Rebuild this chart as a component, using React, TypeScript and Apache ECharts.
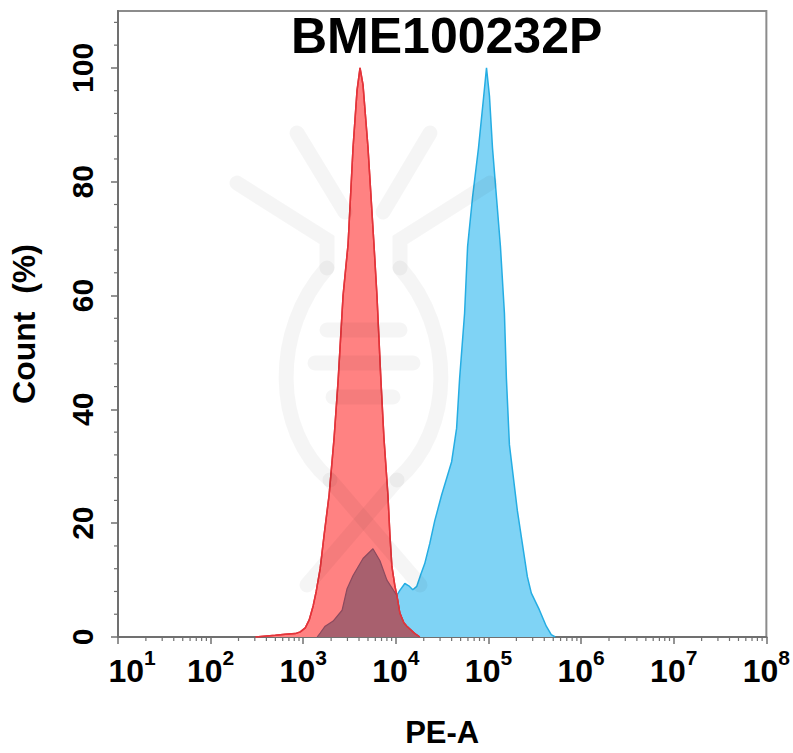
import React, { useEffect, useRef } from "react";
import * as echarts from "echarts";

const FONT = '"Liberation Sans", Arial, Helvetica, sans-serif';

// PE-A values (x) and Count % (y)
const redX = [305, 500, 641, 820, 929, 1051, 1160, 1281, 1380, 1523, 1682, 1904, 2154, 2379, 2692, 3047, 3449, 3808, 4102, 4419, 5000, 5798, 6247, 6899, 7431, 8204, 8620, 9058, 9754, 10250, 11040, 12190, 13130, 16010, 18120];
const redY = [0, 0.3, 0.5, 0.6, 0.9, 1.6, 3, 5.5, 8, 12, 18, 25, 35, 45, 60, 69, 86, 96, 100, 97, 86, 69, 60, 45, 35, 25, 18, 12.4, 9, 7.3, 4.2, 2.5, 1.9, 0.6, 0];

const blueX = [1414, 1523, 1724, 2102, 2627, 2973, 3449, 4419, 5656, 6730, 8003, 10250, 11040, 12500, 13800, 15230, 16820, 18570, 20500, 23210, 26270, 31240, 40010, 45280, 48770, 55200, 59470, 67300, 78070, 88370, 95170, 102500, 110400, 121900, 134600, 148600, 156100, 168200, 205000, 232100, 262700, 290000, 353500, 420500, 475800, 525200];
const blueY = [0, 0.7, 1.9, 2.8, 4.7, 8.5, 10.8, 13.8, 15.5, 13.4, 10, 7.3, 8.2, 9.4, 9.0, 8.3, 8.9, 11, 12.9, 16.4, 20.4, 25, 30.8, 36.7, 45.4, 56.9, 68.6, 77.3, 86, 94.7, 100, 95, 86, 77.3, 68.6, 56.9, 45.4, 33.8, 22.2, 16.4, 10.6, 7.7, 4.8, 1.9, 0.4, 0];

// region where both histograms overlap
const overlapX = [1414, 1523, 1724, 2102, 2627, 2973, 3449, 4419, 5656, 6730, 8003, 10250, 11040, 12190, 13130, 16010, 18120];
const overlapY = [0, 0.7, 1.9, 2.8, 4.7, 8.5, 10.8, 13.8, 15.5, 13.4, 10, 7.3, 4.2, 2.5, 1.9, 0.6, 0];

const decades = [1, 2, 3, 4, 5, 6, 7];
const minorMultipliers = [2, 3, 4, 5, 6, 7, 8, 9];
const yMinorTicks = [4, 8, 12, 16, 24, 28, 32, 36, 44, 48, 52, 56, 64, 68, 72, 76, 84, 88, 92, 96, 104, 108];

const X_MIN = 10;
const X_MAX = 1e8;
const Y_MAX = 110;

const zip = (xs: number[], ys: number[]) => xs.map((x, i) => [x, ys[i]]);

const xMinorData: number[][] = [];
decades.forEach((d) => minorMultipliers.forEach((m) => xMinorData.push([m * Math.pow(10, d), 0])));
const yMinorData = yMinorTicks.map((v) => [X_MIN, v]);

const AXIS_COLOR = "#707070";
const WM = "rgba(0,0,0,0.038)";

export default function App() {
  const ref = useRef<HTMLDivElement>(null);
  useEffect(() => {
    document.body.style.margin = "0";
    const chart = echarts.init(ref.current!, null, { renderer: "svg" });
    const wmStyle = { stroke: WM, lineWidth: 15, lineCap: "round", fill: null };
    chart.setOption({
      animation: false,
      backgroundColor: "#fff",
      title: {
        text: "BME100232P",
        left: 291,
        top: 11,
        padding: 0,
        textStyle: { fontSize: 50, fontWeight: "bold", fontFamily: FONT, color: "#000" },
      },
      grid: {
        left: 117,
        right: 25,
        top: 11,
        bottom: 109,
        show: true,
        borderColor: "#8c8c8c",
        borderWidth: 2,
      },
      xAxis: {
        type: "log",
        logBase: 10,
        min: X_MIN,
        max: X_MAX,
        splitNumber: 7,
        name: "PE-A",
        nameLocation: "middle",
        nameGap: 80,
        nameTextStyle: { fontSize: 31, fontWeight: "bold", fontFamily: FONT, color: "#000" },
        axisLine: { show: true, lineStyle: { color: AXIS_COLOR, width: 2 } },
        axisTick: { show: true, length: 7, lineStyle: { color: AXIS_COLOR, width: 1.5 } },
        splitLine: { show: false },
        axisLabel: {
          margin: 10,
          formatter: (v: number, idx: number) => {
            const n = Math.round(Math.log10(v));
            return idx === 0 ? `{b0|10}{s|${n}}` : `{b|10}{s|${n}}`;
          },
          rich: {
            b: { fontSize: 32, fontWeight: "bold", fontFamily: FONT, color: "#000", lineHeight: 48 },
            b0: { fontSize: 32, fontWeight: "bold", fontFamily: FONT, color: "#000", lineHeight: 48, padding: [0, 0, 0, 28] },
            s: { fontSize: 21, fontWeight: "bold", fontFamily: FONT, color: "#000", lineHeight: 20, verticalAlign: "top" },
          },
        },
      },
      yAxis: {
        type: "value",
        min: 0,
        max: Y_MAX,
        interval: 20,
        name: "Count  (%)",
        nameLocation: "middle",
        nameRotate: 90,
        nameGap: 78,
        nameTextStyle: { fontSize: 32, fontWeight: "bold", fontFamily: FONT, color: "#000" },
        axisLine: { show: true, lineStyle: { color: AXIS_COLOR, width: 2 } },
        axisTick: { show: true, length: 7, lineStyle: { color: AXIS_COLOR, width: 1.5 } },
        splitLine: { show: false },
        axisLabel: {
          rotate: 90,
          margin: 21,
          showMaxLabel: false,
          fontSize: 30,
          fontWeight: "bold",
          fontFamily: FONT,
          color: "#000",
          formatter: (v: number) => (v > 100 ? "" : String(v)),
        },
      },
      graphic: [
        { type: "polyline", z: 100, silent: true, shape: { points: [[297, 133], [345, 212]] }, style: wmStyle },
        { type: "polyline", z: 100, silent: true, shape: { points: [[430, 133], [383, 212]] }, style: wmStyle },
        { type: "polyline", z: 100, silent: true, shape: { points: [[237, 183], [327, 240], [327, 268]] }, style: wmStyle },
        { type: "polyline", z: 100, silent: true, shape: { points: [[490, 183], [400, 240], [400, 268]] }, style: wmStyle },
        { type: "bezierCurve", z: 100, silent: true, shape: { x1: 327, y1: 268, cpx1: 272, cpy1: 330, cpx2: 272, cpy2: 430, x2: 330, y2: 480 }, style: wmStyle },
        { type: "bezierCurve", z: 100, silent: true, shape: { x1: 400, y1: 268, cpx1: 455, cpy1: 330, cpx2: 455, cpy2: 430, x2: 397, y2: 480 }, style: wmStyle },
        { type: "polyline", z: 100, silent: true, shape: { points: [[330, 480], [420, 585]] }, style: wmStyle },
        { type: "polyline", z: 100, silent: true, shape: { points: [[397, 480], [307, 585]] }, style: wmStyle },
        { type: "polyline", z: 100, silent: true, shape: { points: [[327, 330], [400, 330]] }, style: wmStyle },
        { type: "polyline", z: 100, silent: true, shape: { points: [[315, 363], [413, 363]] }, style: wmStyle },
        { type: "polyline", z: 100, silent: true, shape: { points: [[333, 397], [393, 397]] }, style: wmStyle },
      ],
      series: [
        {
          name: "sample",
          type: "line",
          data: zip(blueX, blueY),
          symbol: "none",
          z: 2,
          lineStyle: { color: "#25ade3", width: 1.5 },
          areaStyle: { color: "#7fd3f5", opacity: 1 },
        },
        {
          name: "control",
          type: "line",
          data: zip(redX, redY),
          symbol: "none",
          z: 3,
          lineStyle: { color: "#e3343a", width: 1.5 },
          areaStyle: { color: "#ff8282", opacity: 1 },
        },
        {
          name: "overlap",
          type: "line",
          data: zip(overlapX, overlapY),
          symbol: "none",
          z: 4,
          lineStyle: { color: "#8c4a5e", width: 1.2 },
          areaStyle: { color: "#a8606e", opacity: 1 },
        },
        {
          name: "control-edge",
          type: "line",
          data: zip(redX, redY),
          symbol: "none",
          z: 5,
          lineStyle: { color: "#e3343a", width: 1.5 },
        },
        {
          name: "xMinor",
          type: "custom",
          silent: true,
          z: 6,
          data: xMinorData,
          encode: { x: 0, y: 1 },
          renderItem: (params: any, api: any) => {
            const p = api.coord([api.value(0), 0]);
            return {
              type: "line",
              shape: { x1: p[0], y1: p[1], x2: p[0], y2: p[1] + 4 },
              style: { stroke: AXIS_COLOR, lineWidth: 1.2 },
            };
          },
        },
        {
          name: "yMinor",
          type: "custom",
          silent: true,
          z: 6,
          data: yMinorData,
          encode: { x: 0, y: 1 },
          renderItem: (params: any, api: any) => {
            const p = api.coord([api.value(0), api.value(1)]);
            return {
              type: "line",
              shape: { x1: p[0], y1: p[1], x2: p[0] - 4, y2: p[1] },
              style: { stroke: AXIS_COLOR, lineWidth: 1.2 },
            };
          },
        },
      ],
    });
    return () => chart.dispose();
  }, []);
  return <div ref={ref} style={{ width: 793, height: 753 }} />;
}
